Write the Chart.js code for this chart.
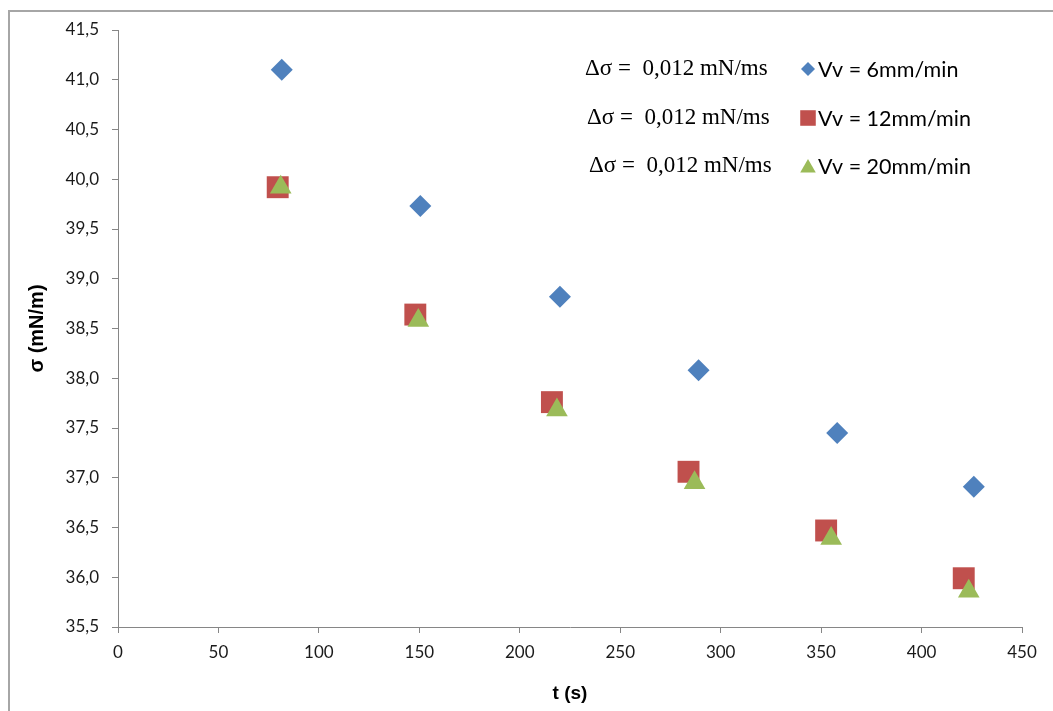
<!DOCTYPE html>
<html>
<head>
<meta charset="utf-8">
<script src="https://cdn.jsdelivr.net/npm/chart.js@4.4.1/dist/chart.umd.min.js"></script>
<style>
  html, body { margin: 0; padding: 0; background: #fff; }
  #wrap { width: 1053px; height: 711px; position: relative; }
</style>
</head>
<body>
<div id="wrap"><canvas id="sigmaChart"></canvas></div>
<script>
// values
var tSlow = [81.5, 150.5, 220, 289, 358, 426]
var sigmaSlow = [41.10, 39.73, 38.82, 38.08, 37.45, 36.91]
var tMid = [79.5, 148, 216, 284, 352.5, 421]
var sigmaMid = [39.92, 38.64, 37.76, 37.06, 36.47, 35.99]
var tFast = [81, 149.5, 218.5, 287, 355, 423.5]
var sigmaFast = [39.92, 38.58, 37.68, 36.95, 36.39, 35.86]

var seriesLabels = ['Vv = 6mm/min', 'Vv = 12mm/min', 'Vv = 20mm/min']
var rateNotes = ['\u0394\u03c3 =  0,012 mN/ms', '\u0394\u03c3 =  0,012 mN/ms', '\u0394\u03c3 =  0,012 mN/ms']

function toPoints(xs, ys) {
  return xs.map(function (x, i) { return { x: x, y: ys[i] } })
}

// frame + hand placed legend
const sheetLegend = {
  id: 'sheetLegend',
  beforeDraw(chart) {
    const ctx = chart.ctx
    ctx.save()
    ctx.strokeStyle = '#a6a6a6'
    ctx.lineWidth = 2
    ctx.beginPath()
    ctx.moveTo(9, chart.height)
    ctx.lineTo(9, 11)
    ctx.lineTo(chart.width, 11)
    ctx.stroke()
    ctx.restore()
  },
  afterDraw(chart) {
    const ctx = chart.ctx
    const rows = [69, 118, 166]
    const noteX = [585, 587, 589]
    const legendSizes = [7, 11, 9]
    ctx.save()
    chart.data.datasets.forEach((ds, i) => {
      const y = rows[i]
      ctx.textBaseline = 'middle'
      ctx.textAlign = 'left'
      ctx.fillStyle = '#000'
      ctx.font = '23px "Liberation Serif", "Times New Roman", serif'
      ctx.fillText(rateNotes[i], noteX[i], y)
      ctx.fillStyle = ds.backgroundColor
      ctx.strokeStyle = ds.backgroundColor
      Chart.helpers.drawPoint(ctx, {
        pointStyle: ds.pointStyle,
        radius: legendSizes[i],
        rotation: 0,
        borderWidth: 0
      }, 808, y + (ds.pointStyle === 'triangle' ? 2 : 0))
      ctx.fillStyle = '#000'
      ctx.font = '21.5px Lato, "Open Sans", sans-serif'
      ctx.fillText(ds.label, 818, y + 1)
    })
    ctx.restore()
  }
}

var ctxScatter = document.getElementById('sigmaChart').getContext('2d')
var sigmaChart = new Chart(ctxScatter, {
  type: 'scatter',
  data: {
    datasets: [
      {
        label: seriesLabels[0],
        data: toPoints(tSlow, sigmaSlow),
        order: 2,
        pointStyle: 'rectRot',
        pointRadius: 11,
        backgroundColor: '#4F81BD',
        borderColor: '#4F81BD',
        borderWidth: 0
      },
      {
        label: seriesLabels[1],
        data: toPoints(tMid, sigmaMid),
        order: 1,
        pointStyle: 'rect',
        pointRadius: 15.5,
        backgroundColor: '#C0504D',
        borderColor: '#C0504D',
        borderWidth: 0
      },
      {
        label: seriesLabels[2],
        data: toPoints(tFast, sigmaFast),
        order: 0,
        pointStyle: 'triangle',
        pointRadius: 12.5,
        backgroundColor: '#9BBB59',
        borderColor: '#9BBB59',
        borderWidth: 0
      }
    ]
  },
  options: {
    responsive: true,
    maintainAspectRatio: false,
    animation: false,
    layout: { padding: { top: 30, right: 31, left: 0, bottom: 0 } },
    plugins: {
      legend: { display: false },
      tooltip: { enabled: false }
    },
    scales: {
      x: {
        type: 'linear',
        min: 0,
        max: 450,
        afterFit: function (scale) { scale.height = 84 },
        border: { color: '#868686', width: 1 },
        grid: { drawOnChartArea: false, drawTicks: true, tickLength: 6, color: '#868686' },
        ticks: {
          stepSize: 50,
          padding: 9,
          color: '#1a1a1a',
          font: { family: 'Lato, "Open Sans", sans-serif', size: 17 }
        },
        title: {
          display: true,
          text: 't (s)',
          color: '#000',
          font: { family: '"Liberation Sans", Arial, sans-serif', size: 19, weight: 'bold' },
          padding: { top: 0, bottom: 6 }
        }
      },
      y: {
        type: 'linear',
        min: 35.5,
        max: 41.5,
        afterFit: function (scale) { scale.width = 118 },
        border: { color: '#868686', width: 1 },
        grid: { drawOnChartArea: false, drawTicks: true, tickLength: 6, color: '#868686' },
        ticks: {
          stepSize: 0.5,
          padding: 13,
          color: '#1a1a1a',
          font: { family: 'Lato, "Open Sans", sans-serif', size: 17 },
          callback: function (v) { return v.toFixed(1).replace('.', ',') }
        },
        title: {
          display: true,
          text: '\u03c3 (mN/m)',
          color: '#000',
          font: { family: '"Liberation Sans", Arial, sans-serif', size: 20, weight: 'bold' },
          padding: { top: 25, bottom: 0 }
        }
      }
    }
  },
  plugins: [sheetLegend]
})
</script>
</body>
</html>
